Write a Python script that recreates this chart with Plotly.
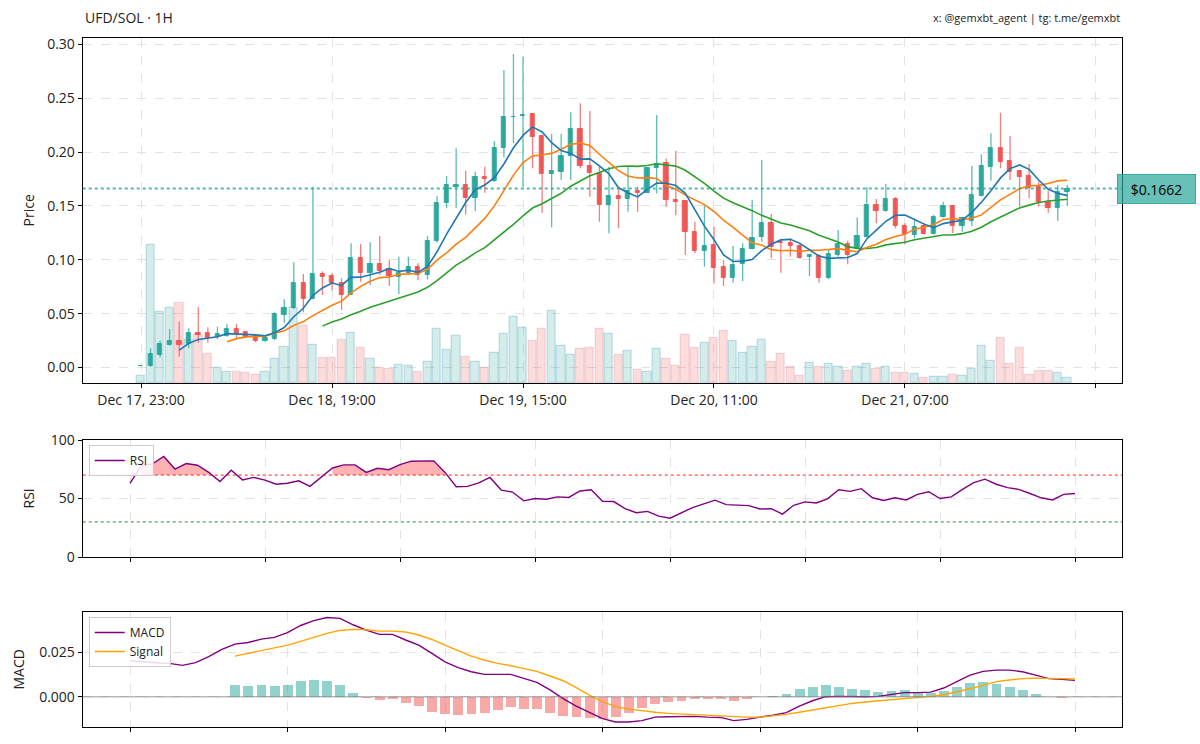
import pandas as pd
import plotly.graph_objects as go

# ---------------- data ----------------
times = pd.date_range("2024-12-17 23:00", periods=98, freq="h")

opens = [0.0010, 0.0010, 0.0116, 0.0212, 0.0243, 0.0218, 0.0323, 0.0318, 0.0283, 0.0295,
         0.0355, 0.0333, 0.0292, 0.0249, 0.0267, 0.0487, 0.0550, 0.0787, 0.0640, 0.0868,
         0.0850, 0.0787, 0.0673, 0.1014, 0.0875, 0.0958, 0.0912, 0.0843, 0.0880, 0.0936,
         0.0856, 0.1172, 0.1530, 0.1680, 0.1692, 0.1577, 0.1772, 0.1735, 0.2035, 0.2323,
         0.2335, 0.2354, 0.2152, 0.1797, 0.1818, 0.1964, 0.2214, 0.1874, 0.1809, 0.1506,
         0.1592, 0.1562, 0.1642, 0.1623, 0.1850, 0.1896, 0.1555, 0.1543, 0.1258, 0.1085,
         0.1137, 0.0930, 0.0828, 0.0961, 0.1103, 0.1215, 0.1339, 0.1165, 0.1153, 0.1131,
         0.1029, 0.1035, 0.0828, 0.1042, 0.1147, 0.1107, 0.1215, 0.1509, 0.1456, 0.1562,
         0.1317, 0.1230, 0.1314, 0.1237, 0.1394, 0.1500, 0.1314, 0.1363, 0.1592, 0.1864,
         0.2035, 0.1917, 0.1825, 0.1778, 0.1673, 0.1540, 0.1484, 0.1630]
highs = [0.0012, 0.0178, 0.0249, 0.0357, 0.0425, 0.0364, 0.0559, 0.0373, 0.0379, 0.0401,
         0.0405, 0.0340, 0.0300, 0.0289, 0.0512, 0.0633, 0.0977, 0.0868, 0.1679, 0.0893,
         0.0875, 0.0828, 0.1153, 0.1147, 0.1162, 0.1221, 0.0998, 0.1029, 0.1029, 0.0967,
         0.1221, 0.1592, 0.1778, 0.2035, 0.1827, 0.1818, 0.1864, 0.2103, 0.2762, 0.2911,
         0.2886, 0.2354, 0.2152, 0.2168, 0.2168, 0.2370, 0.2453, 0.2382, 0.1864, 0.1864,
         0.1679, 0.1864, 0.1679, 0.1850, 0.2344, 0.1942, 0.2013, 0.1543, 0.1354, 0.1502,
         0.1307, 0.0998, 0.1128, 0.1153, 0.1555, 0.1927, 0.1425, 0.1165, 0.1200, 0.1153,
         0.1042, 0.1054, 0.1100, 0.1277, 0.1177, 0.1394, 0.1673, 0.1565, 0.1704, 0.1580,
         0.1339, 0.1370, 0.1345, 0.1416, 0.1540, 0.1500, 0.1400, 0.1871, 0.1980, 0.2175,
         0.2366, 0.2150, 0.1825, 0.1890, 0.1725, 0.1642, 0.1695, 0.1695]
lows = [0.0006, 0.0008, 0.0095, 0.0203, 0.0100, 0.0178, 0.0230, 0.0230, 0.0262, 0.0286,
        0.0267, 0.0273, 0.0234, 0.0240, 0.0255, 0.0416, 0.0543, 0.0512, 0.0633, 0.0673,
        0.0716, 0.0534, 0.0673, 0.0797, 0.0766, 0.0859, 0.0757, 0.0682, 0.0859, 0.0812,
        0.0819, 0.1159, 0.1478, 0.1478, 0.1422, 0.1453, 0.1623, 0.1725, 0.1952, 0.2082,
        0.1679, 0.1850, 0.1437, 0.1302, 0.1741, 0.1741, 0.1850, 0.1586, 0.1354, 0.1246,
        0.1292, 0.1447, 0.1447, 0.1623, 0.1617, 0.1493, 0.1413, 0.1045, 0.1060, 0.0936,
        0.0780, 0.0757, 0.0787, 0.0803, 0.1097, 0.1168, 0.1014, 0.0880, 0.1029, 0.1010,
        0.0850, 0.0787, 0.0819, 0.1029, 0.0958, 0.1103, 0.1209, 0.1339, 0.1447, 0.1292,
        0.1144, 0.1200, 0.1234, 0.1234, 0.1390, 0.1246, 0.1261, 0.1314, 0.1590, 0.1734,
        0.1850, 0.1741, 0.1493, 0.1571, 0.1493, 0.1437, 0.1363, 0.1500]
closes = [0.0012, 0.0125, 0.0218, 0.0243, 0.0212, 0.0323, 0.0302, 0.0277, 0.0315, 0.0355,
          0.0311, 0.0286, 0.0246, 0.0274, 0.0494, 0.0555, 0.0787, 0.0640, 0.0868, 0.0843,
          0.0785, 0.0673, 0.1014, 0.0880, 0.0958, 0.0899, 0.0850, 0.0875, 0.0936, 0.0859,
          0.1172, 0.1530, 0.1692, 0.1692, 0.1577, 0.1766, 0.1747, 0.2035, 0.2323, 0.2330,
          0.2342, 0.2143, 0.1797, 0.1825, 0.1964, 0.2214, 0.1874, 0.1809, 0.1506, 0.1592,
          0.1562, 0.1642, 0.1617, 0.1850, 0.1890, 0.1555, 0.1537, 0.1255, 0.1085, 0.1131,
          0.0927, 0.0828, 0.0952, 0.1103, 0.1205, 0.1339, 0.1122, 0.1156, 0.1128, 0.1020,
          0.1042, 0.0828, 0.1051, 0.1147, 0.1042, 0.1221, 0.1509, 0.1456, 0.1562, 0.1314,
          0.1237, 0.1307, 0.1237, 0.1400, 0.1500, 0.1317, 0.1385, 0.1602, 0.1871, 0.2035,
          0.1911, 0.1818, 0.1772, 0.1664, 0.1540, 0.1484, 0.1632, 0.1662]
volume = [7, 138, 71, 75, 80, 43, 48, 29, 15, 11, 11, 10, 8, 11, 24, 36, 75, 57, 38, 25,
          25, 43, 50, 35, 24, 15, 14, 18, 17, 11, 21, 54, 33, 47, 26, 21, 15, 30, 49, 66,
          55, 42, 54, 72, 37, 28, 34, 35, 54, 49, 28, 32, 13, 11, 34, 24, 17, 48, 35, 40,
          45, 52, 42, 30, 36, 43, 21, 29, 16, 7, 20, 16, 19, 16, 12, 16, 19, 14, 16, 10,
          10, 9, 5, 6, 6, 8, 7, 14, 37, 22, 45, 19, 35, 8, 12, 12, 10, 5]

rsi_values = [63.0, 78.1, 79.6, 85.9, 75.2, 79.9, 78.4, 72.3, 64.5, 74.1,
              65.9, 68.0, 65.7, 62.2, 63.0, 65.1, 60.4, 68.6, 76.1, 78.7,
              78.7, 72.3, 75.8, 74.6, 79.0, 81.9, 82.2, 82.2, 72.3, 60.1,
              60.4, 63.3, 68.0, 57.2, 55.5, 48.0, 50.0, 49.4, 51.4, 50.9,
              56.4, 57.5, 47.7, 47.4, 41.3, 37.8, 39.0, 34.9, 33.2, 37.8,
              42.2, 45.4, 48.6, 44.8, 44.5, 43.9, 41.0, 41.3, 36.7, 44.2,
              47.1, 46.2, 49.7, 57.5, 56.1, 58.4, 50.6, 48.3, 50.6, 48.8,
              53.5, 55.8, 50.0, 51.4, 57.8, 63.6, 66.5, 62.2, 59.3, 57.8,
              54.3, 50.6, 48.8, 53.5, 54.3]

macd_values = [0.0203, 0.0196, 0.0192, 0.0188, 0.0177, 0.0192, 0.0226, 0.0267, 0.0297, 0.0306,
               0.0325, 0.0335, 0.0361, 0.0402, 0.0429, 0.0447, 0.0442, 0.0406, 0.0376, 0.0352,
               0.0352, 0.0320, 0.0291, 0.0244, 0.0197, 0.0164, 0.0141, 0.0126, 0.0126, 0.0126,
               0.0103, 0.0081, 0.0038, -0.0011, -0.0053, -0.0090, -0.0124, -0.0143, -0.0143, -0.0135,
               -0.0115, -0.0113, -0.0111, -0.0111, -0.0115, -0.0117, -0.0135, -0.0128, -0.0115, -0.0105,
               -0.0090, -0.0053, -0.0023, 0.0000, 0.0002, 0.0000, 0.0000, 0.0002, 0.0011, 0.0023,
               0.0023, 0.0026, 0.0049, 0.0085, 0.0122, 0.0143, 0.0150, 0.0150, 0.0141, 0.0122,
               0.0102, 0.0098, 0.0092]
signal_values = [0.0229, 0.0244, 0.0259, 0.0274, 0.0291, 0.0312, 0.0335, 0.0357, 0.0374, 0.0380,
                 0.0378, 0.0370, 0.0370, 0.0365, 0.0348, 0.0323, 0.0291, 0.0259, 0.0229, 0.0207,
                 0.0188, 0.0175, 0.0160, 0.0143, 0.0117, 0.0090, 0.0051, 0.0009, -0.0028, -0.0056,
                 -0.0070, -0.0081, -0.0088, -0.0094, -0.0098, -0.0100, -0.0103, -0.0107, -0.0111, -0.0115,
                 -0.0115, -0.0109, -0.0100, -0.0088, -0.0075, -0.0060, -0.0049, -0.0038, -0.0030, -0.0024,
                 -0.0017, -0.0008, -0.0002, 0.0002, 0.0011, 0.0026, 0.0045, 0.0064, 0.0085, 0.0094,
                 0.0102, 0.0105, 0.0105, 0.0102, 0.0100]
hist_values = [0.0066, 0.0060, 0.0064, 0.0058, 0.0068, 0.0086, 0.0092, 0.0088, 0.0064, 0.0021,
               -0.0006, -0.0019, -0.0015, -0.0034, -0.0053, -0.0085, -0.0098, -0.0103, -0.0100, -0.0094,
               -0.0075, -0.0060, -0.0068, -0.0071, -0.0094, -0.0109, -0.0113, -0.0122, -0.0128, -0.0117,
               -0.0094, -0.0066, -0.0041, -0.0028, -0.0023, -0.0015, -0.0015, -0.0015, -0.0024, -0.0015,
               -0.0004, 0.0002, 0.0017, 0.0043, 0.0056, 0.0066, 0.0056, 0.0043, 0.0036, 0.0026,
               0.0030, 0.0038, 0.0024, 0.0021, 0.0034, 0.0056, 0.0077, 0.0081, 0.0070, 0.0055,
               0.0038, 0.0015, -0.0002, -0.0006, -0.0004]

last_price = 0.1662
price_ticks = [0.00, 0.05, 0.10, 0.15, 0.20, 0.25, 0.30]
price_tick_labels = ["Dec 17, 23:00", "Dec 18, 19:00", "Dec 19, 15:00", "Dec 20, 11:00", "Dec 21, 07:00", ""]

# ---------------- derived ----------------
HOUR = pd.Timedelta(hours=1)
MS_H = 3600 * 1000
close_s = pd.Series(closes, index=times)
ma5 = close_s.rolling(5).mean()
ma10 = close_s.rolling(10).mean()
ma20 = close_s.rolling(20).mean()
rsi_times = times[len(times) - len(rsi_values):]
macd_times = times[len(times) - len(macd_values):]
sig_times = times[len(times) - len(signal_values):]
hist_times = times[len(times) - len(hist_values):]

UP = "#26a69a"
DOWN = "#ef5350"
up = [c >= o for o, c in zip(opens, closes)]

fig = go.Figure()
FONT = "Open Sans"

# volume (base axis y, hidden)
fig.add_trace(go.Bar(
    x=times, y=volume, width=0.86 * MS_H, xaxis="x", yaxis="y",
    marker=dict(color=["rgba(38,166,154,0.2)" if u else "rgba(239,83,80,0.2)" for u in up],
                line=dict(color=["rgba(38,140,170,0.25)" if u else "rgba(200,120,150,0.25)" for u in up], width=1.2)),
    showlegend=False, hoverinfo="skip"))

# wicks
for flag, col in [(True, "rgba(38,166,154,0.75)"), (False, "rgba(239,83,80,0.75)")]:
    xs, ys = [], []
    for t, h, l, u in zip(times, highs, lows, up):
        if u == flag:
            xs += [t, t, None]
            ys += [l, h, None]
    fig.add_trace(go.Scatter(x=xs, y=ys, mode="lines", line=dict(color=col, width=1.3),
                             xaxis="x", yaxis="y2", showlegend=False, hoverinfo="skip"))

# bodies
for flag, col in [(True, UP), (False, DOWN)]:
    bx = [t for t, u in zip(times, up) if u == flag]
    base = [min(o, c) for o, c, u in zip(opens, closes, up) if u == flag]
    hgt = [abs(c - o) for o, c, u in zip(opens, closes, up) if u == flag]
    fig.add_trace(go.Bar(x=bx, y=hgt, base=base, width=0.44 * MS_H, xaxis="x", yaxis="y2",
                         marker=dict(color=col, line=dict(color=col, width=1)),
                         opacity=0.95, showlegend=False, hoverinfo="skip"))

# moving averages
for ser, col in [(ma20, "#2ca02c"), (ma10, "#ff7f0e"), (ma5, "#1f77b4")]:
    fig.add_trace(go.Scatter(x=ser.index, y=ser.values, mode="lines", line=dict(color=col, width=1.6),
                             xaxis="x", yaxis="y2", showlegend=False, hoverinfo="skip"))

# RSI fills (above 70)
runs, cur = [], []
for t, v in zip(rsi_times, rsi_values):
    if v >= 70:
        cur.append((t, v))
    else:
        if len(cur) > 1:
            runs.append(cur)
        cur = []
if len(cur) > 1:
    runs.append(cur)
for run in runs:
    rx = [p[0] for p in run] + [p[0] for p in reversed(run)]
    ry = [p[1] for p in run] + [70] * len(run)
    fig.add_trace(go.Scatter(x=rx, y=ry, fill="toself", fillcolor="rgba(255,0,0,0.3)",
                             line=dict(width=0), mode="lines", xaxis="x2", yaxis="y3",
                             showlegend=False, hoverinfo="skip"))

fig.add_trace(go.Scatter(x=rsi_times, y=rsi_values, mode="lines", name="RSI",
                         line=dict(color="purple", width=1.4), xaxis="x2", yaxis="y3",
                         legend="legend"))

# MACD
fig.add_trace(go.Bar(x=hist_times, y=hist_values, width=0.76 * MS_H, xaxis="x3", yaxis="y4",
                     marker=dict(color=["rgba(38,166,154,0.5)" if v >= 0 else "rgba(239,83,80,0.5)" for v in hist_values],
                                 line=dict(width=0)),
                     showlegend=False, hoverinfo="skip"))
fig.add_trace(go.Scatter(x=macd_times, y=macd_values, mode="lines", name="MACD",
                         line=dict(color="purple", width=1.4), xaxis="x3", yaxis="y4", legend="legend2"))
fig.add_trace(go.Scatter(x=sig_times, y=signal_values, mode="lines", name="Signal",
                         line=dict(color="orange", width=1.4), xaxis="x3", yaxis="y4", legend="legend2"))

W, H = 1200, 744
L, R = 82.75 / W, 1122.25 / W


def ydom(top, bottom):
    return [1 - bottom / H, 1 - top / H]


grid = dict(showgrid=True, gridcolor="#e3e3e3", griddash="dash", gridwidth=1)
axline = dict(showline=True, linecolor="black", linewidth=1.2, mirror=True,
              ticks="outside", ticklen=4, tickcolor="black", automargin=False, zeroline=False,
              tickfont=dict(family=FONT, size=14, color="#222"))

t0 = times[0]
fig.update_layout(
    width=W, height=H, margin=dict(l=0, r=0, t=0, b=0, pad=0, autoexpand=False),
    paper_bgcolor="white", plot_bgcolor="white", barmode="overlay", bargap=0,
    font=dict(family=FONT, size=13, color="#222"),
    xaxis=dict(domain=[L, R], anchor="y", type="date",
               range=[t0 - 6.1 * HOUR, t0 + 102.75 * HOUR],
               tickvals=[t0 + 20 * k * HOUR for k in range(6)], ticktext=price_tick_labels,
               **grid, **axline),
    yaxis=dict(domain=ydom(38, 383), range=[0, max(volume) * 2.5], visible=False, fixedrange=True,
               automargin=False),
    yaxis2=dict(overlaying="y", anchor="x", side="left", range=[-0.0144, 0.306],
                tickvals=price_ticks, tickformat=".2f", **grid, **axline),
    xaxis2=dict(domain=[L, R], anchor="y3", type="date",
                range=[rsi_times[0] - 4.2 * HOUR, rsi_times[-1] + 4.2 * HOUR],
                dtick=12 * MS_H, tick0="2024-12-18 00:00", showticklabels=False, **grid, **axline),
    yaxis3=dict(domain=ydom(440, 557), anchor="x2", range=[0, 100], tickvals=[0, 50, 100],
                **grid, **axline),
    xaxis3=dict(domain=[L, R], anchor="y4", type="date",
                range=[macd_times[0] - 3.6 * HOUR, macd_times[-1] + 3.6 * HOUR],
                dtick=12 * MS_H, tick0="2024-12-19 00:00", showticklabels=False, **grid, **axline),
    yaxis4=dict(domain=ydom(612, 727), anchor="x3", range=[-0.0171, 0.0478],
                tickvals=[0.0, 0.025], tickformat=".3f", **grid, **axline),
    legend=dict(x=L + 6 / W, y=1 - 445 / H, xanchor="left", yanchor="top",
                bgcolor="rgba(255,255,255,0.85)", bordercolor="#cccccc", borderwidth=1,
                font=dict(family=FONT, size=12, color="#222"), itemwidth=30),
    legend2=dict(x=L + 6 / W, y=1 - 617 / H, xanchor="left", yanchor="top",
                 bgcolor="rgba(255,255,255,0.85)", bordercolor="#cccccc", borderwidth=1,
                 font=dict(family=FONT, size=12, color="#222"), itemwidth=30),
)

# reference lines
fig.add_shape(type="line", xref="x domain", yref="y2", x0=0, x1=1, y0=last_price, y1=last_price,
              line=dict(color="rgba(38,166,154,0.8)", width=2, dash="dot"))
fig.add_shape(type="line", xref="x2 domain", yref="y3", x0=0, x1=1, y0=70, y1=70,
              line=dict(color="rgba(255,0,0,0.5)", width=1.8, dash="dot"))
fig.add_shape(type="line", xref="x2 domain", yref="y3", x0=0, x1=1, y0=30, y1=30,
              line=dict(color="rgba(0,128,0,0.5)", width=1.8, dash="dot"))
fig.add_shape(type="line", xref="x3 domain", yref="y4", x0=0, x1=1, y0=0, y1=0,
              line=dict(color="rgba(128,128,128,0.55)", width=1.6), layer="above")

# annotations
fig.add_annotation(x=1117 / W, xref="paper", xanchor="left", y=last_price, yref="y2",
                   text=f"${last_price:.4f}", showarrow=False, width=75, height=26, borderpad=1,
                   bgcolor="rgba(38,166,154,0.7)", bordercolor="rgba(38,166,154,0.9)", borderwidth=1,
                   font=dict(family=FONT, size=14, color="black"))
fig.add_annotation(x=L, xref="paper", xanchor="left", y=1 - 18 / H, yref="paper", yanchor="middle",
                   text="UFD/SOL · 1H", showarrow=False, font=dict(family=FONT, size=14, color="#222"))
fig.add_annotation(x=R, xref="paper", xanchor="right", y=1 - 18 / H, yref="paper", yanchor="middle",
                   text="x: @gemxbt_agent | tg: t.me/gemxbt", showarrow=False,
                   font=dict(family=FONT, size=11, color="#222"))
for label, xp, yc in [("Price", 28, (38 + 383) / 2), ("RSI", 28, (440 + 557) / 2), ("MACD", 18, (612 + 727) / 2)]:
    fig.add_annotation(x=xp / W, xref="paper", y=1 - yc / H, yref="paper", text=label, textangle=-90,
                       showarrow=False, xanchor="center", yanchor="middle",
                       font=dict(family=FONT, size=14, color="#222"))

fig.write_html("out.html", config={"displayModeBar": False},
               post_script="document.body.style.margin='0px';")
